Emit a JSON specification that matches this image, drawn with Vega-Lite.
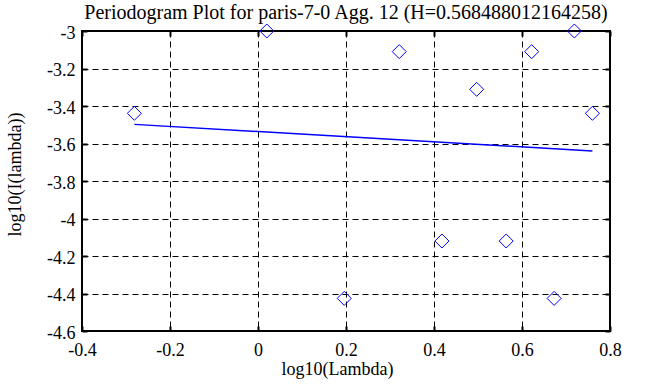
{
  "$schema": "https://vega.github.io/schema/vega-lite/v6.json",
  "width": 528,
  "height": 300,
  "autosize": {"type": "none"},
  "padding": {"left": 82, "top": 31, "right": 43, "bottom": 56},
  "background": "white",
  "title": {
    "text": "Periodogram Plot for paris-7-0 Agg. 12 (H=0.568488012164258)",
    "font": "Liberation Serif",
    "fontSize": 20,
    "fontWeight": "normal",
    "color": "black",
    "anchor": "middle",
    "offset": -1
  },
  "config": {
    "view": {"stroke": "black", "strokeWidth": 2},
    "axis": {
      "labelFont": "Liberation Serif",
      "labelFontSize": 18,
      "labelColor": "black",
      "labelFlush": false,
      "labelOverlap": false,
      "titleFont": "Liberation Serif",
      "titleFontSize": 18,
      "titleFontWeight": "normal",
      "titleColor": "black",
      "gridColor": "black",
      "gridDash": [6, 4],
      "gridWidth": 1,
      "gridOpacity": 1,
      "domain": false,
      "tickColor": "black",
      "tickWidth": 2,
      "tickSize": -5
    }
  },
  "datasets": {
    "points": [
      {"log10_lambda": -0.281, "log10_I": -3.439},
      {"log10_lambda": 0.020, "log10_I": -3.0},
      {"log10_lambda": 0.196, "log10_I": -4.426},
      {"log10_lambda": 0.321, "log10_I": -3.110},
      {"log10_lambda": 0.418, "log10_I": -4.12},
      {"log10_lambda": 0.497, "log10_I": -3.311},
      {"log10_lambda": 0.564, "log10_I": -4.12},
      {"log10_lambda": 0.622, "log10_I": -3.110},
      {"log10_lambda": 0.673, "log10_I": -4.426},
      {"log10_lambda": 0.719, "log10_I": -3.0},
      {"log10_lambda": 0.760, "log10_I": -3.439}
    ],
    "fit": [
      {"log10_lambda": -0.281, "log10_I": -3.498},
      {"log10_lambda": 0.760, "log10_I": -3.640}
    ]
  },
  "layer": [
    {
      "data": {"name": "points"},
      "mark": {"type": "point", "shape": "diamond", "filled": false, "color": "#0000ff", "size": 196, "strokeWidth": 1, "opacity": 1},
      "encoding": {
        "x": {
          "field": "log10_lambda", "type": "quantitative",
          "scale": {"domain": [-0.4, 0.8], "nice": false, "zero": false},
          "axis": {"orient": "bottom", "title": "log10(Lambda)", "values": [-0.4, -0.2, 0, 0.2, 0.4, 0.6, 0.8], "labelExpr": "'' + datum.value", "grid": true, "labelPadding": 15, "titlePadding": 1, "titleX": 255}
        },
        "y": {
          "field": "log10_I", "type": "quantitative",
          "scale": {"domain": [-4.6, -3], "nice": false, "zero": false},
          "axis": {"orient": "left", "title": "log10(I(lambda))", "values": [-3, -3.2, -3.4, -3.6, -3.8, -4, -4.2, -4.4, -4.6], "labelExpr": "'' + datum.value", "grid": true, "labelPadding": 12, "labelOffset": 2, "titlePadding": 22, "titleY": 143}
        }
      }
    },
    {
      "data": {"name": "fit"},
      "mark": {"type": "line", "color": "#0000ff", "strokeWidth": 1.5},
      "encoding": {
        "x": {
          "field": "log10_lambda", "type": "quantitative",
          "scale": {"domain": [-0.4, 0.8], "nice": false, "zero": false},
          "axis": {"orient": "top", "title": null, "labels": false, "grid": false, "values": [-0.4, -0.2, 0, 0.2, 0.4, 0.6, 0.8]}
        },
        "y": {
          "field": "log10_I", "type": "quantitative",
          "scale": {"domain": [-4.6, -3], "nice": false, "zero": false},
          "axis": {"orient": "right", "title": null, "labels": false, "grid": false, "values": [-3, -3.2, -3.4, -3.6, -3.8, -4, -4.2, -4.4, -4.6]}
        }
      }
    }
  ],
  "resolve": {"axis": {"x": "independent", "y": "independent"}}
}
